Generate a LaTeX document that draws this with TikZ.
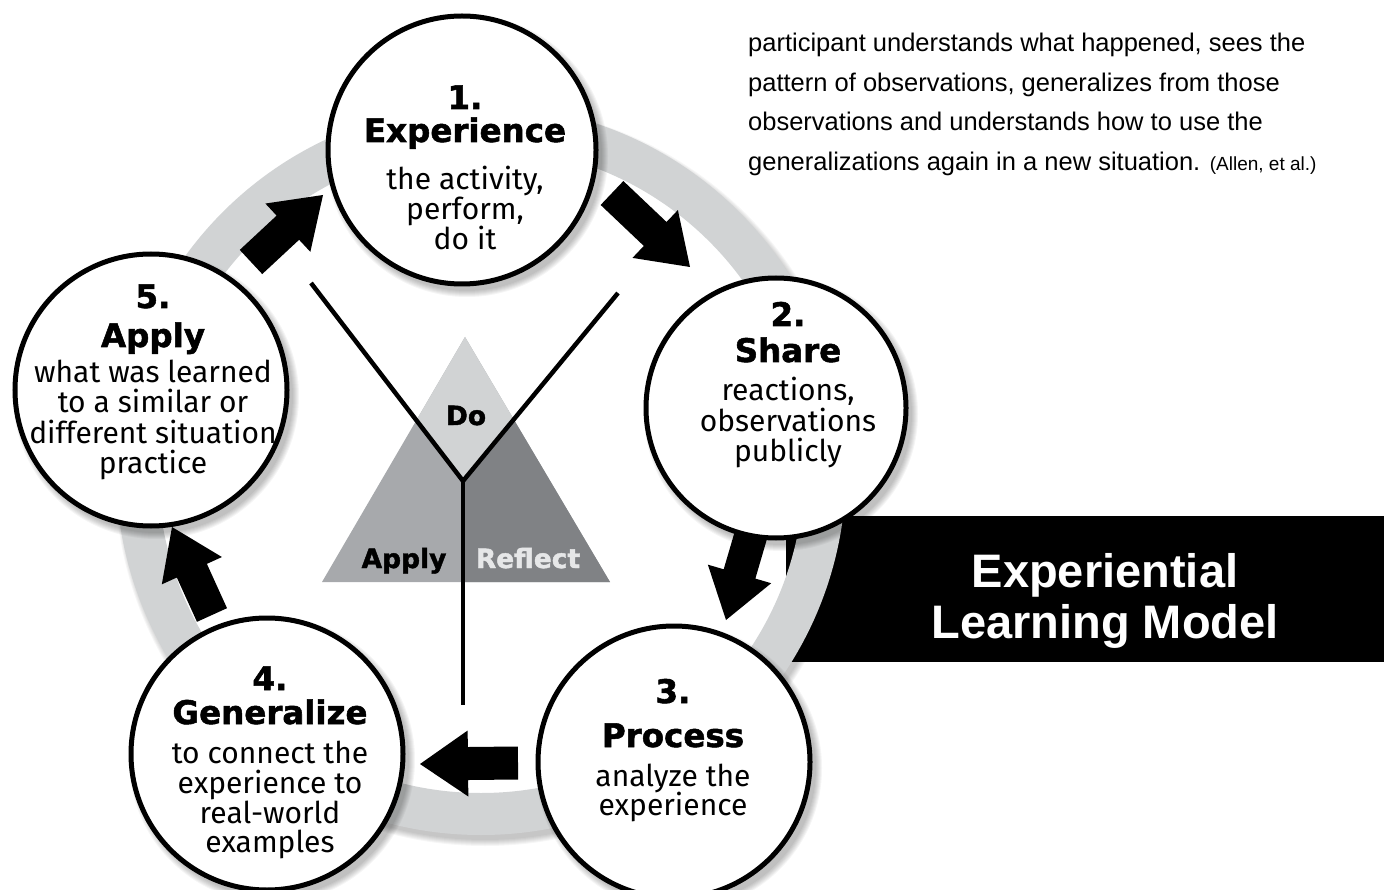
\documentclass[tikz,border=0pt]{standalone}
\usepackage{fontspec}
\setmainfont{Fira Sans}
\newfontfamily\helv{Liberation Sans}
\newfontfamily\headfont{DejaVu Sans}[BoldFeatures={FakeBold=1.6}]
\usetikzlibrary{calc}
\definecolor{ringgrey}{HTML}{D1D3D4}
\definecolor{dogrey}{HTML}{D1D3D4}
\definecolor{applygrey}{HTML}{A7A9AC}
\definecolor{reflectgrey}{HTML}{808285}
\definecolor{reflecttext}{HTML}{E6E7E8}
\newcommand\blockarr[2]{%
  \coordinate (#1-b) at ($(#2)!48pt!(#1)$);
  \fill[black] ($(#1)!16.5pt!90:(#2)$) -- ($(#1-b)!16.5pt!90:(#2)$) -- ($(#1-b)!33pt!90:(#2)$) -- (#2)
    -- ($(#1-b)!33pt!-90:(#2)$) -- ($(#1-b)!16.5pt!-90:(#2)$) -- ($(#1)!16.5pt!-90:(#2)$) -- cycle;}
\newcommand\discshadow[2]{%
  \foreach \k in {0,...,6}{\fill[black,opacity=0.04] ($(#1)+(5,6)$) circle[radius=#2pt+\k pt];}}
\begin{document}
\begin{tikzpicture}[x=1pt,y=-1pt,
  stage/.style={circle,draw=black,line width=5pt,fill=white,inner sep=0pt},
  num/.style={anchor=base,inner sep=0pt,font=\headfont\bfseries\fontsize{32.5}{32.5}\selectfont},
  body/.style={anchor=base,inner sep=0pt,font=\fontsize{30}{30}\selectfont},
  tri/.style={anchor=base,inner sep=0pt,font=\headfont\bfseries\fontsize{26.5}{26.5}\selectfont},
  yline/.style={line width=4.5pt},
  quote/.style={anchor=base west,inner sep=0pt,font=\helv\fontsize{25.5}{25.5}\selectfont},
  title/.style={anchor=base,inner sep=0pt,text=white,font=\helv\bfseries\fontsize{47}{47}\selectfont}]
\useasboundingbox (0,0) rectangle (1384,890);

% quotation
\node[quote] (q1) at (748,52) {participant understands what happened, sees the};
\node[quote] (q2) at (748,91.5) {pattern of observations, generalizes from those};
\node[quote] (q3) at (748,131) {observations and understands how to use the};
\node[quote] (q4) at (748,170.5) {generalizations again in a new situation. {\fontsize{19}{19}\selectfont(Allen, et al.)}};

% title box
\fill[black] (786,516) rectangle (1384,662);
\node[title] (t1) at (1105,587) {Experiential};
\node[title] (t2) at (1105,638) {Learning Model};

% ring
\coordinate (rc) at (481,470);
\foreach \k in {0,...,6}{\fill[black,opacity=0.035,even odd rule] ($(rc)+(4,6)$) circle[radius=364pt+\k pt] (rc) circle[radius=325pt];}
\fill[ringgrey,even odd rule] (rc) circle[radius=365pt] (rc) circle[radius=323pt];

% triangle
\coordinate (ya) at (311,283);
\coordinate (yb) at (618,293);
\coordinate (yj) at (463,481);
\coordinate (yd) at (463,705);
\begin{scope}
  \clip (465,337) -- (610,582) -- (322,582) -- cycle;
  \fill[applygrey] (300,320) rectangle (630,600);
  \fill[reflectgrey] (yj) -- ($(yj)!2!(yb)$) -- (700,100) -- (700,700) -- (yd) -- cycle;
  \fill[dogrey] (yj) -- ($(yj)!2!(yb)$) -- ($(yj)!2!(ya)$) -- cycle;
\end{scope}
\node[tri] (tdo) at (466,425) {Do};
\node[tri] (tap) at (404,568) {Apply};
\node[tri,text=reflecttext] (tre) at (528,568) {Reflect};
\draw[yline] (ya) -- (yj) -- (yb);
\draw[yline] (yj) -- (yd);

% arrows
\coordinate (a1t) at (251,262); \coordinate (a1h) at (323,195);
\coordinate (a2t) at (612,193); \coordinate (a2h) at (690,267);
\coordinate (a3t) at (753,528); \coordinate (a3h) at (726,620);
\coordinate (a4t) at (518,763); \coordinate (a4h) at (420,764);
\coordinate (a5t) at (212,615); \coordinate (a5h) at (172,527);
\blockarr{a1t}{a1h}
\blockarr{a2t}{a2h}
\blockarr{a3t}{a3h}
\blockarr{a4t}{a4h}
\blockarr{a5t}{a5h}

% circles
\coordinate (p1) at (462,150);
\coordinate (p2) at (776,408);
\coordinate (p3) at (674,762);
\coordinate (p4) at (267,754);
\coordinate (p5) at (151,390);
\discshadow{p1}{135}\discshadow{p2}{131}\discshadow{p3}{137}\discshadow{p4}{137}\discshadow{p5}{137}
\node[stage,minimum size=268pt] (c1) at (p1) {};
\node[stage,minimum size=260pt] (c2) at (p2) {};
\node[stage,minimum size=272pt] (c3) at (p3) {};
\node[stage,minimum size=272pt] (c4) at (p4) {};
\node[stage,minimum size=272pt] (c5) at (p5) {};

% texts circle 1
\node[num] (c1n) at (465,109) {1.};
\node[num] (c1h) at (465,142) {Experience};
\node[body] (c1a) at (465,190) {the activity,};
\node[body] (c1b) at (465,220) {perform,};
\node[body] (c1c) at (465,250) {do it};
% circle 2
\node[num] (c2n) at (788,326) {2.};
\node[num] (c2h) at (788,362) {Share};
\node[body] (c2a) at (788,401) {reactions,};
\node[body] (c2b) at (788,431) {observations};
\node[body] (c2c) at (788,461) {publicly};
% circle 3
\node[num] (c3n) at (673,703) {3.};
\node[num] (c3h) at (673,747) {Process};
\node[body] (c3a) at (673,786) {analyze the};
\node[body] (c3b) at (673,815) {experience};
% circle 4
\node[num] (c4n) at (270,690) {4.};
\node[num] (c4h) at (270,724) {Generalize};
\node[body] (c4a) at (270,763) {to connect the};
\node[body] (c4b) at (270,793) {experience to};
\node[body] (c4c) at (270,823) {real-world};
\node[body] (c4d) at (270,852) {examples};
% circle 5
\node[num] (c5n) at (153,308) {5.};
\node[num] (c5h) at (153,347) {Apply};
\node[body] (c5a) at (153,383) {what was learned};
\node[body] (c5b) at (153,413) {to a similar or};
\node[body] (c5c) at (153,443) {different situation};
\node[body] (c5d) at (153,473) {practice};
\end{tikzpicture}
\end{document}
